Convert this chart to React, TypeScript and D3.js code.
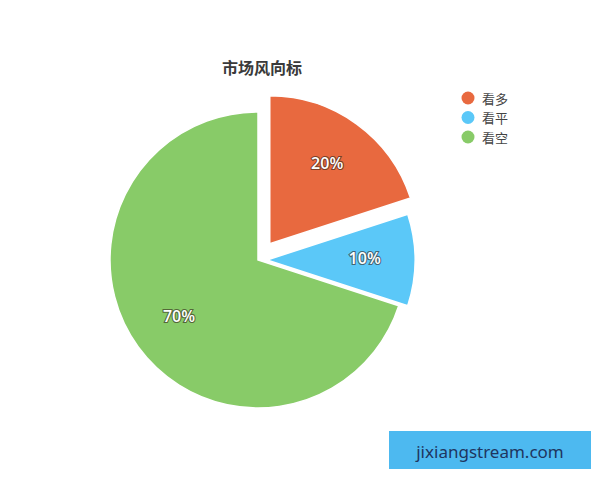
import { useEffect, useRef } from 'react';
import * as d3 from 'd3';

const categories = ['看多', '看平', '看空'];
const values = [20, 10, 70];
const colors = ['#E8693F', '#5BC8F8', '#88CB68'];
const explode = [20, 9, 0];

export default function App() {
  const svgRef = useRef<SVGSVGElement>(null);
  const width = 600;
  const height = 480;
  const radius = 148;
  const cx = 258;
  const cy = 260;

  useEffect(() => {
    if (!svgRef.current) return;
    const svg = d3.select(svgRef.current);
    svg.selectAll('*').remove();

    svg.append('rect').attr('width', width).attr('height', height).attr('fill', '#fff');

    // Title
    svg.append('text')
      .attr('x', 262)
      .attr('y', 74)
      .attr('text-anchor', 'middle')
      .attr('fill', '#3a3a3a')
      .style('font-family', '"Noto Sans CJK SC", sans-serif')
      .style('font-size', '16px')
      .style('font-weight', 'bold')
      .text('市场风向标');

    const pie = d3.pie<number>().sort(null).value(d => d);
    const arcs = pie(values);
    const arc = d3.arc<d3.PieArcDatum<number>>().innerRadius(0).outerRadius(radius);
    const labelArc = d3.arc<d3.PieArcDatum<number>>().innerRadius(radius * 0.66).outerRadius(radius * 0.66);

    const g = svg.append('g').attr('transform', `translate(${cx},${cy})`);

    const slices = g.selectAll('g.slice')
      .data(arcs)
      .enter()
      .append('g')
      .attr('class', 'slice')
      .attr('transform', (d, i) => {
        const mid = (d.startAngle + d.endAngle) / 2;
        return `translate(${explode[i] * Math.sin(mid)},${-explode[i] * Math.cos(mid)})`;
      });

    slices.append('path')
      .attr('d', arc)
      .attr('fill', (d, i) => colors[i])
      .attr('stroke', '#fff')
      .attr('stroke-width', 1.5);

    // Percent labels: white text with a dark halo
    slices.append('text')
      .attr('transform', d => `translate(${labelArc.centroid(d)})`)
      .attr('text-anchor', 'middle')
      .attr('dominant-baseline', 'middle')
      .attr('fill', '#fff')
      .attr('stroke', 'rgba(50,35,25,0.6)')
      .attr('stroke-width', 2.2)
      .attr('paint-order', 'stroke')
      .style('font-family', '"Open Sans", "DejaVu Sans", sans-serif')
      .style('font-size', '16px')
      .style('font-weight', '600')
      .text(d => `${d.data}%`);

    // Legend
    const legend = svg.append('g').attr('transform', 'translate(468,98)');
    categories.forEach((c, i) => {
      legend.append('circle')
        .attr('cx', 0)
        .attr('cy', i * 19.5)
        .attr('r', 6.5)
        .attr('fill', colors[i]);
      legend.append('text')
        .attr('x', 14)
        .attr('y', i * 19.5)
        .attr('dominant-baseline', 'central')
        .attr('fill', '#444')
        .style('font-family', '"Noto Sans CJK SC", sans-serif')
        .style('font-size', '13px')
        .text(c);
    });

    // Watermark
    svg.append('rect')
      .attr('x', 389)
      .attr('y', 431)
      .attr('width', 202)
      .attr('height', 38)
      .attr('fill', '#4DB9F0');
    svg.append('text')
      .attr('x', 490)
      .attr('y', 451)
      .attr('text-anchor', 'middle')
      .attr('dominant-baseline', 'central')
      .attr('fill', '#1E3560')
      .style('font-family', '"Noto Sans", sans-serif')
      .style('font-size', '17px')
      .text('jixiangstream.com');
  }, []);

  return (
    <svg
      ref={svgRef}
      width={width}
      height={height}
      viewBox={`0 0 ${width} ${height}`}
      style={{ position: 'absolute', left: 0, top: 0 }}
    />
  );
}
